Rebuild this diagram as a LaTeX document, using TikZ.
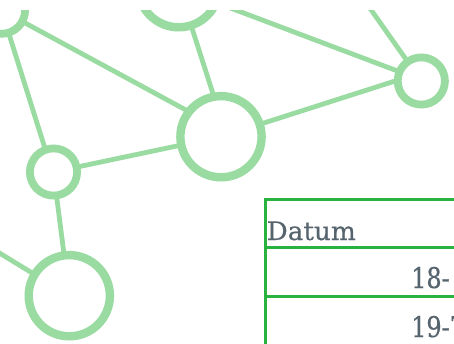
\documentclass[tikz,border=0pt]{standalone}
\usepackage{fontspec}
\setmainfont{DejaVu Serif}
\newfontfamily\wordface[FakeStretch=1.03,FakeBold=0.5]{DejaVu Serif}
\newfontfamily\digitface[FakeStretch=0.84,FakeBold=0.5]{DejaVu Serif}
\definecolor{netgreen}{HTML}{9ADBA2}
\definecolor{rulegreen}{HTML}{28B23F}
\definecolor{inkgrey}{HTML}{56646E}
\tikzset{
  hub/.style={circle,draw=netgreen,line width=8.4pt,minimum size=81.2pt,inner sep=0pt,outer sep=0pt},
  spoke/.style={circle,draw=netgreen,line width=7.8pt,minimum size=47.2pt,inner sep=0pt,outer sep=0pt},
  link/.style={draw=netgreen,line width=4.8pt},
  rulebar/.style={draw=rulegreen,line width=3pt,line cap=rect},
  wordtext/.style={inner sep=0pt,anchor=base west,text=inkgrey,font=\wordface\fontsize{25.5pt}{28pt}\selectfont},
  digittext/.style={inner sep=0pt,anchor=base west,text=inkgrey,font=\digitface\fontsize{28.5pt}{30pt}\selectfont}
}
\begin{document}
\begin{tikzpicture}[x=1pt,y=-1pt]
\useasboundingbox (0,0) rectangle (454,343);
\fill[white] (0,0) rectangle (454,343);
\clip (0,10) rectangle (454,343);
\coordinate (offA) at (180,-11);
\coordinate (offB) at (350,-20);
\coordinate (offC) at (-30,235);
\node[hub] (center) at (221,136.7) {};
\node[hub] (top) at (178.7,-13.3) {};
\node[hub] (bottom) at (69.3,295.7) {};
\node[spoke] (right) at (421.3,81) {};
\node[spoke] (left) at (53.5,172) {};
\node[spoke] (corner) at (1.5,10.2) {};
\draw[link] (corner) -- (center.142);
\draw[link] (corner) -- (left.110);
\draw[link] (top) -- (center.100);
\draw[link] (offA) -- (right.157);
\draw[link] (offB) -- (right);
\draw[link] (center) -- (right.178);
\draw[link] (left) -- (center);
\draw[link] (left) -- (bottom);
\draw[link] (offC) -- (bottom);
\coordinate (tl) at (265,199);
\coordinate (tr) at (460,199);
\coordinate (ml) at (265,247.5);
\coordinate (mr) at (460,247.5);
\coordinate (nl) at (265,296);
\coordinate (nr) at (460,296);
\coordinate (bl) at (265,350);
\draw[rulebar] (tl) -- (tr);
\draw[rulebar] (ml) -- (mr);
\draw[rulebar] (nl) -- (nr);
\draw[rulebar] (tl) -- (bl);
\node[wordtext] (datum) at (266.5,240) {Datum};
\node[digittext] (rowa) at (411,288) {18-};
\node[digittext] (rowb) at (411,337) {19-7};
\end{tikzpicture}
\end{document}
